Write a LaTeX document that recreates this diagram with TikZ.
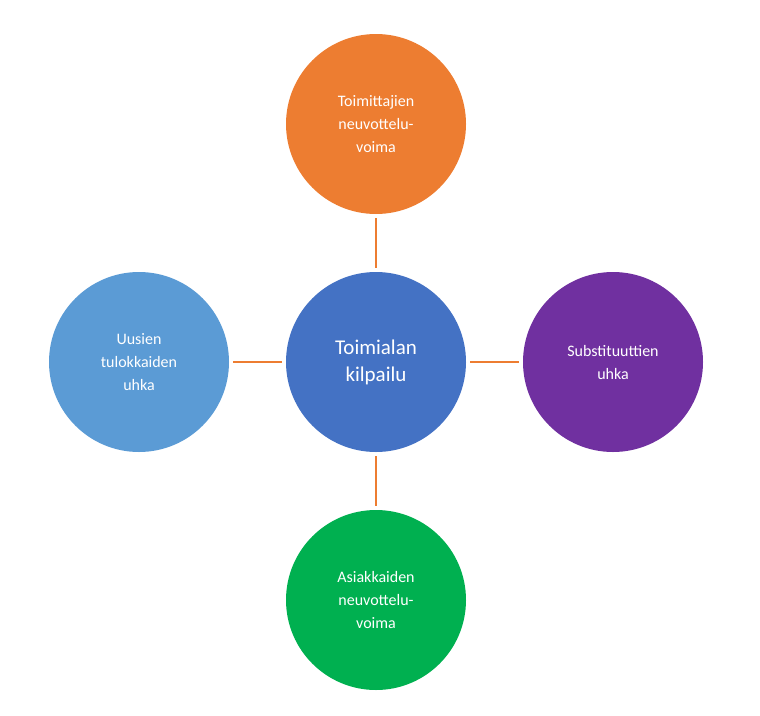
\documentclass[tikz,border=0pt]{standalone}
\usepackage{fontspec}
\setmainfont{Carlito}
\usetikzlibrary{positioning}
\definecolor{orangeF}{HTML}{ED7D31}
\definecolor{blueC}{HTML}{4472C4}
\definecolor{blueL}{HTML}{5B9BD5}
\definecolor{purpleR}{HTML}{7030A0}
\definecolor{greenB}{HTML}{00B050}
\tikzset{
  force/.style={circle,minimum size=180pt,inner sep=0pt,text=white,align=center,font=\fontsize{16}{23}\selectfont},
  link/.style={draw=orangeF,line width=2.2pt,shorten <=4pt,shorten >=4pt}
}
\begin{document}
\begin{tikzpicture}[x=1pt,y=-1pt]
\useasboundingbox (0,0) rectangle (760,715);
% Circles
\node[force,fill=blueC,font=\fontsize{21}{27}\selectfont] (rivalry) at (376,362) {Toimialan\\kilpailu};
\node[force,fill=orangeF] (suppliers) at (376,124) {Toimittajien\\neuvottelu-\\voima};
\node[force,fill=greenB] (buyers) at (376,600) {Asiakkaiden\\neuvottelu-\\voima};
\node[force,fill=blueL] (entrants) at (139,362) {Uusien\\tulokkaiden\\uhka};
\node[force,fill=purpleR] (substitutes) at (613,362) {Substituuttien\\uhka};
% Connectors
\draw[link] (suppliers) -- (rivalry);
\draw[link] (rivalry) -- (buyers);
\draw[link] (entrants) -- (rivalry);
\draw[link] (rivalry) -- (substitutes);
\end{tikzpicture}
\end{document}
